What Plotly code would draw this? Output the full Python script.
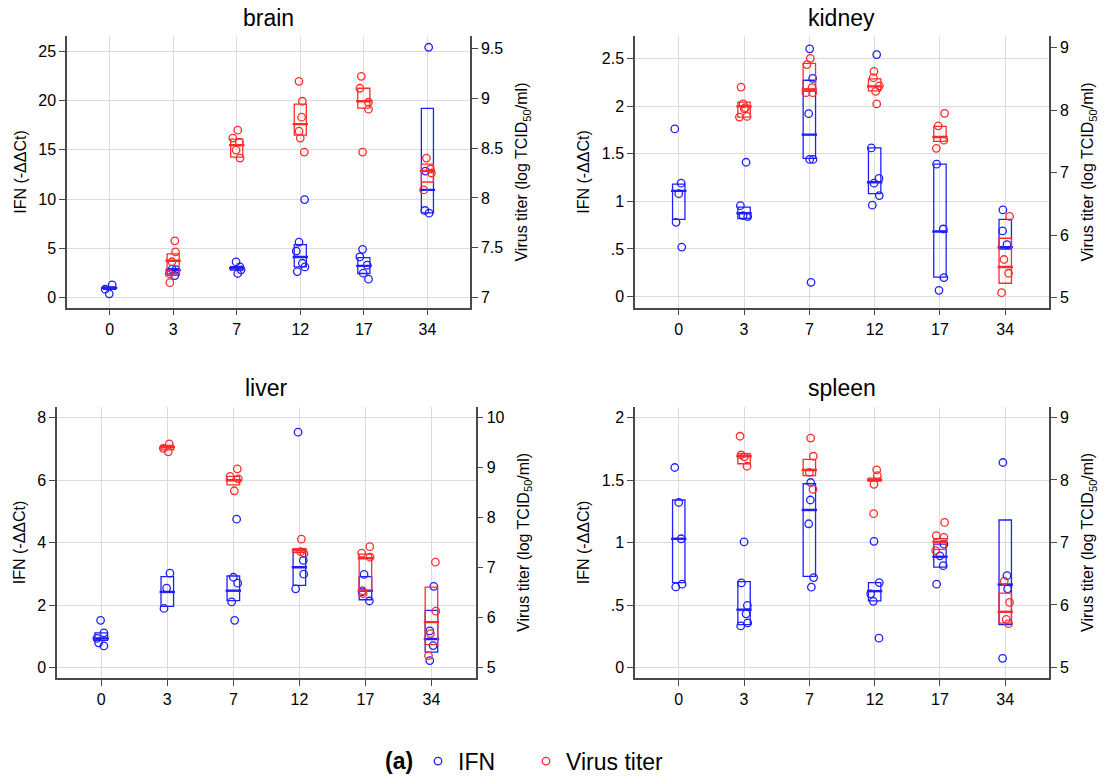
import plotly.graph_objects as go

# ---------------- data ----------------
days = [0, 3, 7, 12, 17, 34]
day_labels = ["0", "3", "7", "12", "17", "34"]
organs = ["brain", "kidney", "liver", "spleen"]

# brain
brain_ifn = [[1.31, 0.87, 0.40], [2.90, 2.85, 2.25], [3.63, 3.13, 2.83, 2.46],
             [9.96, 5.65, 4.74, 3.50, 3.13, 2.66], [4.91, 4.14, 3.30, 2.49, 1.88],
             [25.4, 12.85, 8.85, 8.58]]
brain_ifn_jit = [[0.04, -0.07, -0.005], [-0.016, 0.042, 0.026], [-0.01, 0.05, 0.068, 0.016],
                 [0.068, -0.02, -0.063, 0.032, 0.073, -0.047], [-0.02, -0.063, 0.052, -0.01, 0.073],
                 [0.02, -0.03, -0.04, 0.026]]
brain_ifn_q1 = [0.85, 2.30, 2.80, 3.13, 2.46, 8.61]
brain_ifn_med = [1.00, 2.80, 3.00, 4.14, 3.23, 10.94]
brain_ifn_q3 = [1.10, 2.95, 3.15, 5.38, 4.07, 19.2]
brain_vir = [[], [7.57, 7.46, 7.36, 7.24, 7.15], [8.68, 8.60, 8.56, 8.48, 8.40],
             [9.17, 8.97, 8.81, 8.67, 8.60, 8.46], [9.22, 9.10, 8.96, 8.89, 8.46],
             [8.40, 8.29, 8.25, 8.08]]
brain_vir_jit = [[], [0.026, 0.037, -0.02, -0.063, -0.052], [0.016, -0.063, 0.042, -0.01, 0.052],
                 [-0.02, 0.032, 0.021, -0.02, 0.0, 0.063], [-0.04, -0.063, 0.073, 0.073, -0.02],
                 [-0.016, 0.047, 0.063, -0.058]]
brain_vir_q1 = [None, 7.24, 8.41, 8.63, 8.90, 8.16]
brain_vir_med = [None, 7.37, 8.53, 8.74, 8.97, 8.27]
brain_vir_q3 = [None, 7.44, 8.59, 8.94, 9.10, 8.34]

# kidney
kidney_ifn = [[1.76, 1.19, 1.08, 0.78, 0.52], [1.41, 0.955, 0.85, 0.84],
              [2.60, 2.29, 1.92, 1.44, 1.44, 0.15], [2.54, 1.56, 1.24, 1.19, 1.06, 0.96],
              [1.39, 0.71, 0.20, 0.066], [0.91, 0.69, 0.545]]
kidney_ifn_jit = [[-0.061, 0.036, 0.0, -0.041, 0.046], [0.031, -0.056, -0.015, 0.056],
                  [0.005, 0.051, -0.01, 0.005, 0.056, 0.026], [0.031, -0.051, 0.066, -0.01, 0.071, -0.036],
                  [-0.051, 0.051, 0.061, -0.015], [-0.036, -0.041, 0.026]]
kidney_ifn_q1 = [0.81, 0.82, 1.45, 1.08, 0.205, 0.50]
kidney_ifn_med = [1.11, 0.875, 1.70, 1.20, 0.684, 0.52]
kidney_ifn_q3 = [1.18, 0.94, 2.27, 1.56, 1.39, 0.81]
kidney_vir = [[], [8.37, 8.10, 8.04, 8.02, 7.90, 7.89], [8.83, 8.73, 8.36, 8.28, 8.28],
              [8.62, 8.52, 8.39, 8.30, 8.10], [7.95, 7.75, 7.52, 7.39], [6.30, 5.61, 5.39, 5.08]]
kidney_vir_jit = [[], [-0.046, -0.015, 0.02, 0.005, 0.046, -0.071], [0.015, -0.036, 0.041, -0.051, 0.051],
                  [-0.01, -0.02, 0.071, 0.015, 0.031], [0.071, -0.026, 0.061, -0.056],
                  [0.066, -0.02, 0.051, -0.056]]
kidney_vir_q1 = [None, 7.89, 8.30, 8.31, 7.50, 5.23]
kidney_vir_med = [None, 8.06, 8.33, 8.38, 7.57, 5.49]
kidney_vir_q3 = [None, 8.13, 8.75, 8.50, 7.74, 5.95]

# liver
liver_ifn = [[1.51, 1.11, 0.93, 0.79, 0.69], [3.02, 2.54, 1.89], [4.75, 2.89, 2.70, 2.10, 1.51],
             [7.54, 3.43, 2.99, 2.52], [2.98, 2.42, 2.13], [2.60, 1.17, 0.70, 0.22]]
liver_ifn_jit = [[-0.01, 0.04, -0.066, -0.04, 0.04], [0.04, -0.01, -0.05], [0.05, 0.0, 0.066, -0.025, 0.02],
                 [-0.02, 0.06, 0.066, -0.056], [-0.02, -0.05, 0.06], [0.035, -0.025, 0.025, -0.025]]
liver_ifn_q1 = [0.87, 1.96, 2.14, 2.63, 2.17, 0.49]
liver_ifn_med = [0.93, 2.42, 2.46, 3.21, 2.46, 0.91]
liver_ifn_q3 = [1.11, 2.91, 2.93, 3.69, 2.91, 1.83]
liver_vir = [[], [9.48, 9.39, 9.32], [8.98, 8.83, 8.78, 8.54], [7.57, 7.32, 7.28],
             [7.42, 7.29, 7.21, 6.54, 6.48], [7.11, 6.13, 5.68, 5.24]]
liver_vir_jit = [[], [0.03, -0.06, 0.015], [0.06, -0.05, 0.075, 0.015], [0.03, 0.02, 0.07],
                 [0.066, -0.056, 0.07, -0.045, -0.035], [0.06, 0.066, -0.015, -0.045]]
liver_vir_q1 = [None, 9.36, 8.66, 7.30, 6.53, 5.46]
liver_vir_med = [None, 9.41, 8.75, 7.35, 7.19, 5.91]
liver_vir_q3 = [None, 9.45, 8.83, 7.38, 7.27, 6.61]

# spleen
spleen_ifn = [[1.60, 1.32, 1.03, 0.667, 0.645], [1.005, 0.677, 0.497, 0.43, 0.357, 0.333],
              [1.48, 1.34, 1.15, 0.72, 0.643], [1.01, 0.68, 0.59, 0.53, 0.235],
              [0.987, 0.894, 0.815, 0.667], [1.64, 0.735, 0.63, 0.074]]
spleen_ifn_jit = [[-0.061, 0.0, 0.036, 0.051, -0.046], [0.0, -0.041, 0.051, 0.031, 0.056, -0.051],
                  [0.02, 0.015, -0.01, 0.066, 0.031], [-0.01, 0.071, -0.061, -0.02, 0.066],
                  [0.061, 0.0, 0.051, -0.051], [-0.036, 0.026, 0.036, -0.041]]
spleen_ifn_q1 = [0.68, 0.344, 0.73, 0.534, 0.804, 0.344]
spleen_ifn_med = [1.03, 0.463, 1.26, 0.611, 0.886, 0.664]
spleen_ifn_q3 = [1.34, 0.688, 1.47, 0.68, 0.987, 1.18]
spleen_vir = [[], [8.70, 8.40, 8.37, 8.22], [8.67, 8.38, 8.12, 7.85], [8.16, 8.07, 7.93, 7.46],
              [7.32, 7.11, 7.08, 6.87], [6.38, 6.04, 5.77, 5.70]]
spleen_vir_jit = [[], [-0.061, -0.046, 0.005, 0.046], [0.02, 0.061, 0.0, 0.056], [0.031, 0.041, -0.01, -0.015],
                  [0.071, -0.056, 0.061, -0.066], [-0.015, 0.066, 0.015, 0.051]]
spleen_vir_q1 = [None, 8.26, 8.07, 7.98, 6.89, 5.71]
spleen_vir_med = [None, 8.38, 8.16, 8.00, 7.01, 5.89]
spleen_vir_q3 = [None, 8.42, 8.33, 8.03, 7.06, 6.19]

# axis ticks
brain_left_ticks = [0, 5, 10, 15, 20, 25]
brain_left_text = ["0", "5", "10", "15", "20", "25"]
brain_right_ticks = [7, 7.5, 8, 8.5, 9, 9.5]
brain_right_text = ["7", "7.5", "8", "8.5", "9", "9.5"]
kidney_left_ticks = [0, 0.5, 1, 1.5, 2, 2.5]
kidney_left_text = ["0", ".5", "1", "1.5", "2", "2.5"]
kidney_right_ticks = [5, 6, 7, 8, 9]
kidney_right_text = ["5", "6", "7", "8", "9"]
liver_left_ticks = [0, 2, 4, 6, 8]
liver_left_text = ["0", "2", "4", "6", "8"]
liver_right_ticks = [5, 6, 7, 8, 9, 10]
liver_right_text = ["5", "6", "7", "8", "9", "10"]
spleen_left_ticks = [0, 0.5, 1, 1.5, 2]
spleen_left_text = ["0", ".5", "1", "1.5", "2"]
spleen_right_ticks = [5, 6, 7, 8, 9]
spleen_right_text = ["5", "6", "7", "8", "9"]

# ---------------- style / layout ----------------
BLUE = "#1f1fff"
RED = "#ff2b2b"
AXC = "#4a4a4a"
GRID = "#dcdcdc"
FONT = "Liberation Sans, Arial, Helvetica, sans-serif"
W, H = 1115, 783

panel_px = {  # left, right, top, bottom in pixels
    "brain": (67, 470, 36.7, 310),
    "kidney": (635, 1049, 36.7, 310),
    "liver": (57, 475.7, 410, 683.3),
    "spleen": (635, 1049, 410, 683.3),
}
left_ranges = {"brain": [-1.0, 26.5], "kidney": [-0.115, 2.73], "liver": [-0.34, 8.35], "spleen": [-0.084, 2.085]}
right_ranges = {"brain": [6.9, 9.62], "kidney": [4.84, 9.18], "liver": [4.79, 10.22], "spleen": [4.83, 9.17]}

data = {
    "brain": (brain_ifn, brain_ifn_jit, brain_ifn_q1, brain_ifn_med, brain_ifn_q3,
              brain_vir, brain_vir_jit, brain_vir_q1, brain_vir_med, brain_vir_q3,
              brain_left_ticks, brain_left_text, brain_right_ticks, brain_right_text),
    "kidney": (kidney_ifn, kidney_ifn_jit, kidney_ifn_q1, kidney_ifn_med, kidney_ifn_q3,
               kidney_vir, kidney_vir_jit, kidney_vir_q1, kidney_vir_med, kidney_vir_q3,
               kidney_left_ticks, kidney_left_text, kidney_right_ticks, kidney_right_text),
    "liver": (liver_ifn, liver_ifn_jit, liver_ifn_q1, liver_ifn_med, liver_ifn_q3,
              liver_vir, liver_vir_jit, liver_vir_q1, liver_vir_med, liver_vir_q3,
              liver_left_ticks, liver_left_text, liver_right_ticks, liver_right_text),
    "spleen": (spleen_ifn, spleen_ifn_jit, spleen_ifn_q1, spleen_ifn_med, spleen_ifn_q3,
               spleen_vir, spleen_vir_jit, spleen_vir_q1, spleen_vir_med, spleen_vir_q3,
               spleen_left_ticks, spleen_left_text, spleen_right_ticks, spleen_right_text),
}

fig = go.Figure()
layout = {}
annotations = []


def add_series(points, jit, q1, med, q3, color, xa, ya, name, legend, legend_id):
    pos = [i for i in range(len(days)) if q1[i] is not None]
    fig.add_trace(go.Box(
        x=pos, q1=[q1[i] for i in pos], median=[med[i] for i in pos], q3=[q3[i] for i in pos],
        lowerfence=[q1[i] for i in pos], upperfence=[q3[i] for i in pos],
        orientation="v", boxpoints=False, width=0.19, whiskerwidth=0,
        fillcolor="rgba(0,0,0,0)", line=dict(color=color, width=1.3),
        xaxis=xa, yaxis=ya, showlegend=False, hoverinfo="skip"))
    # thicker median bar
    fig.add_trace(go.Scatter(
        x=pos, y=[med[i] for i in pos], mode="markers", showlegend=False, hoverinfo="skip",
        marker=dict(symbol="line-ew", size=11, color=color, line=dict(width=2.4, color=color)),
        xaxis=xa, yaxis=ya))
    xs, ys = [], []
    for i, (vals, js) in enumerate(zip(points, jit)):
        for v, j in zip(vals, js):
            xs.append(i + j)
            ys.append(v)
    fig.add_trace(go.Scatter(
        x=xs, y=ys, mode="markers", name=name, showlegend=legend, legend=legend_id,
        marker=dict(symbol="circle-open", size=7.5, color=color, line=dict(width=1.3, color=color)),
        xaxis=xa, yaxis=ya))


for k, organ in enumerate(organs, start=1):
    (ifn, ifn_j, iq1, imed, iq3, vir, vir_j, vq1, vmed, vq3,
     lt, ltt, rt, rtt) = data[organ]
    xa = "x" if k == 1 else f"x{k}"
    yl = "y" if k == 1 else f"y{2 * k - 1}"
    yr = f"y{2 * k}"
    l, r, t, b = panel_px[organ]
    xdom = [l / W, r / W]
    ydom = [1 - b / H, 1 - t / H]

    add_series(ifn, ifn_j, iq1, imed, iq3, BLUE, xa, yl, "IFN", k == 1, "legend")
    add_series(vir, vir_j, vq1, vmed, vq3, RED, xa, yr, "Virus titer", k == 1, "legend2")

    layout["xaxis" if k == 1 else f"xaxis{k}"] = dict(
        domain=xdom, anchor=yl, range=[-0.67, 5.67],
        tickmode="array", tickvals=list(range(len(days))), ticktext=day_labels,
        showgrid=True, gridcolor=GRID, gridwidth=1, zeroline=False,
        showline=True, linecolor=AXC, linewidth=1.5, mirror=False,
        ticks="outside", ticklen=6, tickcolor=AXC, tickwidth=1,
        tickfont=dict(size=16, color="black", family=FONT))
    layout["yaxis" if k == 1 else f"yaxis{2 * k - 1}"] = dict(
        domain=ydom, anchor=xa, range=left_ranges[organ],
        tickmode="array", tickvals=lt, ticktext=ltt,
        showgrid=True, gridcolor=GRID, gridwidth=1, zeroline=False,
        showline=True, linecolor=AXC, linewidth=1.5,
        ticks="outside", ticklen=6, tickcolor=AXC, tickwidth=1,
        tickfont=dict(size=16, color="black", family=FONT),
        title=dict(text="IFN (-ΔΔCt)", font=dict(size=16, color="black", family=FONT), standoff=8))
    layout[f"yaxis{2 * k}"] = dict(
        domain=ydom, anchor=xa, overlaying=yl, side="right", range=right_ranges[organ],
        tickmode="array", tickvals=rt, ticktext=rtt,
        showgrid=False, zeroline=False,
        showline=True, linecolor=AXC, linewidth=1.5,
        ticks="outside", ticklen=6, tickcolor=AXC, tickwidth=1,
        tickfont=dict(size=16, color="black", family=FONT),
        title=dict(text="Virus titer (log TCID<sub>50</sub>/ml)",
                   font=dict(size=16, color="black", family=FONT), standoff=14))
    annotations.append(dict(
        text=organ, x=(xdom[0] + xdom[1]) / 2, y=1 - (t - 19) / H, xref="paper", yref="paper",
        xanchor="center", yanchor="middle", showarrow=False,
        font=dict(size=23, color="black", family=FONT)))

annotations.append(dict(
    text="<b>(a)</b>", x=399 / W, y=1 - 767 / H, xref="paper", yref="paper",
    xanchor="center", yanchor="middle", showarrow=False,
    font=dict(size=23, color="black", family=FONT)))

legend_common = dict(orientation="h", y=1 - 767 / H, xanchor="left", yanchor="middle",
                     font=dict(size=23, color="black", family=FONT), bgcolor="rgba(0,0,0,0)",
                     itemsizing="trace")

fig.update_layout(
    **layout,
    annotations=annotations,
    width=W, height=H,
    margin=dict(l=0, r=0, t=0, b=0),
    paper_bgcolor="white", plot_bgcolor="white",
    boxmode="overlay",
    font=dict(family=FONT, color="black"),
    legend=dict(x=418 / W, **legend_common),
    legend2=dict(x=526 / W, **legend_common),
)

fig.write_html("out.html", config={"displayModeBar": False},
               post_script="document.body.style.margin='0';")
